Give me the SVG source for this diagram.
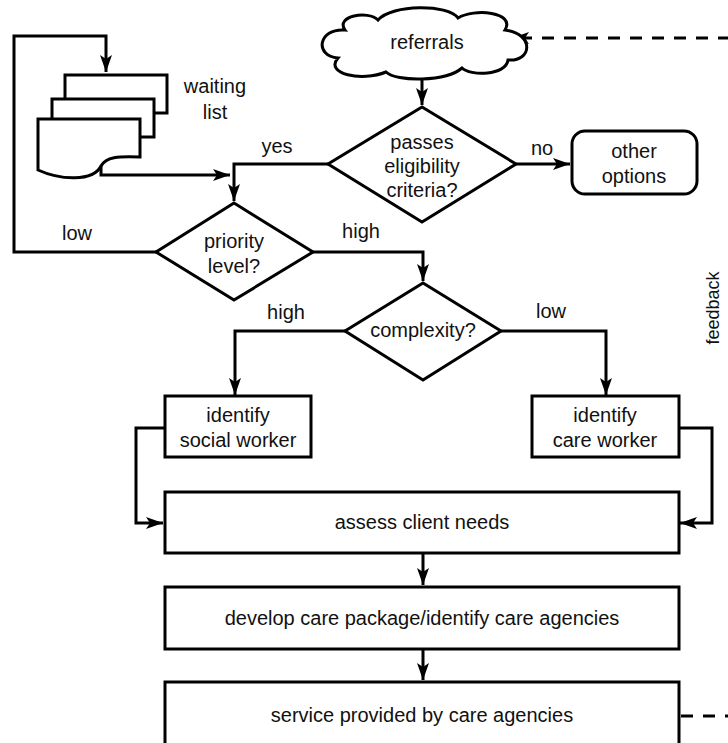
<svg xmlns="http://www.w3.org/2000/svg" width="728" height="743" viewBox="0 0 728 743">
<style>
.s{fill:#fff;stroke:#000;stroke-width:3}
.c{fill:none;stroke:#000;stroke-width:3}
.d{fill:none;stroke:#000;stroke-width:3;stroke-dasharray:12 10}
text{font-family:"Liberation Sans",Arial,sans-serif;font-size:20px;fill:#111;text-anchor:middle}
</style>
<defs>
<marker id="ah" markerUnits="userSpaceOnUse" markerWidth="20" markerHeight="14" refX="17" refY="6" orient="auto" viewBox="0 0 20 12">
<path d="M0,0 L17,6 L0,12 L4,6 Z" fill="#000"/>
</marker>
</defs>
<rect x="0" y="0" width="728" height="743" fill="#fff"/>
<g id="connectors">
<path class="c" d="M422,77 V105" marker-end="url(#ah)"/>
<path class="c" d="M328,164 H234 V201" marker-end="url(#ah)"/>
<path class="c" d="M101,166 V175 H230" marker-end="url(#ah)"/>
<path class="c" d="M156,252 H14 V36 H106 V72" marker-end="url(#ah)"/>
<path class="c" d="M516,164 H570" marker-end="url(#ah)"/>
<path class="c" d="M313,252 H423 V281" marker-end="url(#ah)"/>
<path class="c" d="M345,331 H235 V395" marker-end="url(#ah)"/>
<path class="c" d="M501,331 H606 V395" marker-end="url(#ah)"/>
<path class="c" d="M165,428 H136 V523 H163" marker-end="url(#ah)"/>
<path class="c" d="M679,428 H712 V523 H680" marker-end="url(#ah)"/>
<path class="c" d="M423,553 V585" marker-end="url(#ah)"/>
<path class="c" d="M423,649 V680" marker-end="url(#ah)"/>
<path class="d" d="M681,716 H728"/>
<path class="d" d="M730,38 H512" marker-end="url(#ah)"/>
<text transform="translate(719,308) rotate(-90)" style="font-size:18px">feedback</text>
<text x="277" y="153">yes</text>
<text x="77" y="240">low</text>
<text x="542" y="155">no</text>
<text x="361" y="238">high</text>
<text x="286" y="319">high</text>
<text x="551" y="318">low</text>
</g>
<g id="referrals">
<path class="s" d="M345,30 C335,16 368,10 378,20 C392,4 448,4 458,18 C474,8 516,12 505,30 C535,34 532,62 508,60 C506,76 470,76 462,68 C446,82 396,82 386,72 C362,82 324,74 338,58 C314,56 318,28 345,30 Z"/>
<text x="427" y="49">referrals</text>
</g>
<g id="waiting-list">
<rect class="s" x="65" y="75" width="102" height="38"/>
<rect class="s" x="52" y="99" width="102" height="38"/>
<path class="s" d="M38,119 H140 V157 C118,156 106,157 101,166 C93,182 60,180 38,170 Z"/>
<text x="215" y="93">waiting</text>
<text x="215" y="119">list</text>
</g>
<g id="eligibility">
<path class="s" d="M422,107 L516,164 L422,222 L328,164 Z"/>
<text x="422" y="149">passes</text>
<text x="422" y="173">eligibility</text>
<text x="422" y="197">criteria?</text>
</g>
<g id="other-options">
<rect class="s" x="572" y="131" width="125" height="63" rx="13"/>
<text x="634" y="158">other</text>
<text x="634" y="183">options</text>
</g>
<g id="priority">
<path class="s" d="M234,203 L313,252 L234,300 L156,252 Z"/>
<text x="234" y="248">priority</text>
<text x="234" y="273">level?</text>
</g>
<g id="complexity">
<path class="s" d="M423,283 L501,331 L423,380 L345,331 Z"/>
<text x="423" y="337">complexity?</text>
</g>
<g id="social-worker">
<rect class="s" x="165" y="396" width="146" height="61"/>
<text x="238" y="422">identify</text>
<text x="238" y="447">social worker</text>
</g>
<g id="care-worker">
<rect class="s" x="532" y="396" width="147" height="61"/>
<text x="605" y="422">identify</text>
<text x="605" y="447">care worker</text>
</g>
<g id="assess">
<rect class="s" x="165" y="492" width="514" height="61"/>
<text x="422" y="529">assess client needs</text>
</g>
<g id="develop">
<rect class="s" x="165" y="587" width="514" height="62"/>
<text x="422" y="625">develop care package/identify care agencies</text>
</g>
<g id="service">
<rect class="s" x="165" y="682" width="514" height="80"/>
<text x="422" y="722">service provided by care agencies</text>
</g>
</svg>
